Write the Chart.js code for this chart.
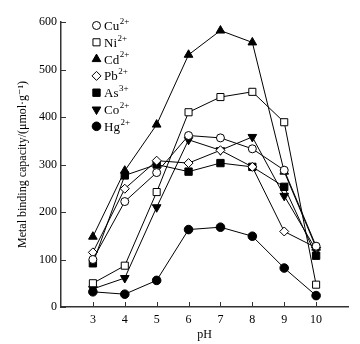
<!DOCTYPE html>
<html>
<head>
<meta charset="utf-8">
<script src="https://cdn.jsdelivr.net/npm/chart.js@4/dist/chart.umd.min.js"></script>
<style>
  html, body { margin: 0; padding: 0; background: #fff; }
  #wrap { width: 360px; height: 344px; }
</style>
</head>
<body>
<div id="wrap"><canvas id="myChart" width="360" height="344"></canvas></div>
<script>
// data
const pH = [3, 4, 5, 6, 7, 8, 9, 10];
const pHTicks = [3, 4, 5, 6, 7, 8, 9, 10];
const ions = ["Cu", "Ni", "Cd", "Pb", "As", "Co", "Hg"];
const charges = ["2+", "2+", "2+", "2+", "3+", "2+", "2+"];

const cu = [100, 222, 283, 361, 356, 333, 288, 128];
const ni = [50, 87, 242, 410, 442, 453, 389, 47];
const cd = [148, 287, 384, 531, 582, 557, 285, 125];
const pb = [115, 249, 308, 303, 330, 295, 159, 125];
const as = [92, 277, 300, 285, 303, 295, 253, 108];
const co = [38, 61, 210, 352, 330, 358, 234, 120];
const hg = [32, 27, 56, 163, 168, 149, 82, 24];

const serif = "'Liberation Serif', 'DejaVu Serif', serif";

// marker look per series
const markers = [
  { style: "circle", fill: "#fff", radius: 4, rotation: 0 },
  { style: "rect", fill: "#fff", radius: 5, rotation: 0 },
  { style: "triangle", fill: "#000", radius: 5, rotation: 0 },
  { style: "rectRot", fill: "#fff", radius: 4.5, rotation: 0 },
  { style: "rect", fill: "#000", radius: 5.2, rotation: 0 },
  { style: "triangle", fill: "#000", radius: 5, rotation: 180 },
  { style: "circle", fill: "#000", radius: 4.3, rotation: 0 },
];

const series = [cu, ni, cd, pb, as, co, hg];

const datasets = series.map((vals, i) => ({
  label: ions[i] + charges[i],
  data: vals.map((v, k) => ({ x: pH[k], y: v })),
  borderColor: "#000",
  borderWidth: 1,
  backgroundColor: markers[i].fill,
  pointStyle: markers[i].style,
  pointRadius: markers[i].radius,
  pointRotation: markers[i].rotation,
  pointBackgroundColor: markers[i].fill,
  pointBorderColor: "#000",
  pointBorderWidth: 1,
  tension: 0,
  fill: false,
}));

// little ticks drawn pointing into the plot
const insideTicks = {
  id: "insideTicks",
  afterDraw(chart) {
    const { ctx, chartArea } = chart;
    const x = chart.scales.x, y = chart.scales.y;
    ctx.save();
    ctx.strokeStyle = "#333";
    ctx.lineWidth = 1;
    ctx.beginPath();
    x.ticks.forEach(t => {
      const px = Math.round(x.getPixelForValue(t.value)) + 0.5;
      ctx.moveTo(px, chartArea.bottom);
      ctx.lineTo(px, chartArea.bottom - 5);
    });
    y.ticks.forEach(t => {
      const py = Math.round(y.getPixelForValue(t.value)) + 0.5;
      ctx.moveTo(chartArea.left, py);
      ctx.lineTo(chartArea.left + 5, py);
    });
    ctx.stroke();
    ctx.restore();
  }
};

// legend inside the plot, with superscript charges
const innerLegend = {
  id: "innerLegend",
  afterDraw(chart) {
    const ctx = chart.ctx;
    const mx = 96.5, tx = 104, y0 = 25.5, step = 16.8;
    ctx.save();
    ions.forEach((name, i) => {
      const y = y0 + i * step;
      const m = markers[i];
      ctx.fillStyle = m.fill;
      ctx.strokeStyle = "#000";
      ctx.lineWidth = 1;
      Chart.helpers.drawPoint(ctx, {
        pointStyle: m.style, radius: m.radius, rotation: m.rotation, borderWidth: 1
      }, mx, y);
      ctx.fillStyle = "#000";
      ctx.textBaseline = "middle";
      ctx.textAlign = "left";
      ctx.font = "13px " + serif;
      ctx.fillText(name, tx, y + 1);
      const w = ctx.measureText(name).width;
      ctx.font = "9px " + serif;
      ctx.fillText(charges[i], tx + w + 0.5, y - 4);
    });
    ctx.restore();
  }
};

const config = {
  type: "line",
  data: { datasets: datasets },
  options: {
    responsive: false,
    animation: false,
    layout: { padding: { left: 0, right: 12, top: 22, bottom: 0 } },
    plugins: {
      legend: { display: false },
      tooltip: { enabled: false }
    },
    scales: {
      x: {
        type: "linear",
        min: 2,
        max: 11,
        afterBuildTicks: scale => { scale.ticks = pHTicks.map(v => ({ value: v })); },
        afterFit: scale => { scale.height = 37; },
        grid: { display: true, drawOnChartArea: false, drawTicks: false },
        border: { display: true, color: "#333", width: 1.5 },
        ticks: { color: "#000", font: { family: serif, size: 12 }, padding: 6, maxRotation: 0, autoSkip: false },
        title: { display: true, text: "pH", color: "#000", font: { family: serif, size: 12 }, padding: { top: 0, bottom: 2 } }
      },
      y: {
        min: 0,
        max: 600,
        afterFit: scale => { scale.width = 61; },
        grid: { display: true, drawOnChartArea: false, drawTicks: false },
        border: { display: true, color: "#333", width: 1.5 },
        ticks: { stepSize: 100, color: "#000", font: { family: serif, size: 12 }, padding: 4 },
        title: {
          display: true,
          text: "Metal binding capacity/(\u03bcmol\u00b7g\u207b\u00b9)",
          color: "#000",
          font: { family: serif, size: 12 },
          padding: { top: 16, bottom: 0 }
        }
      }
    }
  },
  plugins: [insideTicks, innerLegend]
};

const myChart = new Chart(document.getElementById("myChart"), config);
</script>
</body>
</html>
